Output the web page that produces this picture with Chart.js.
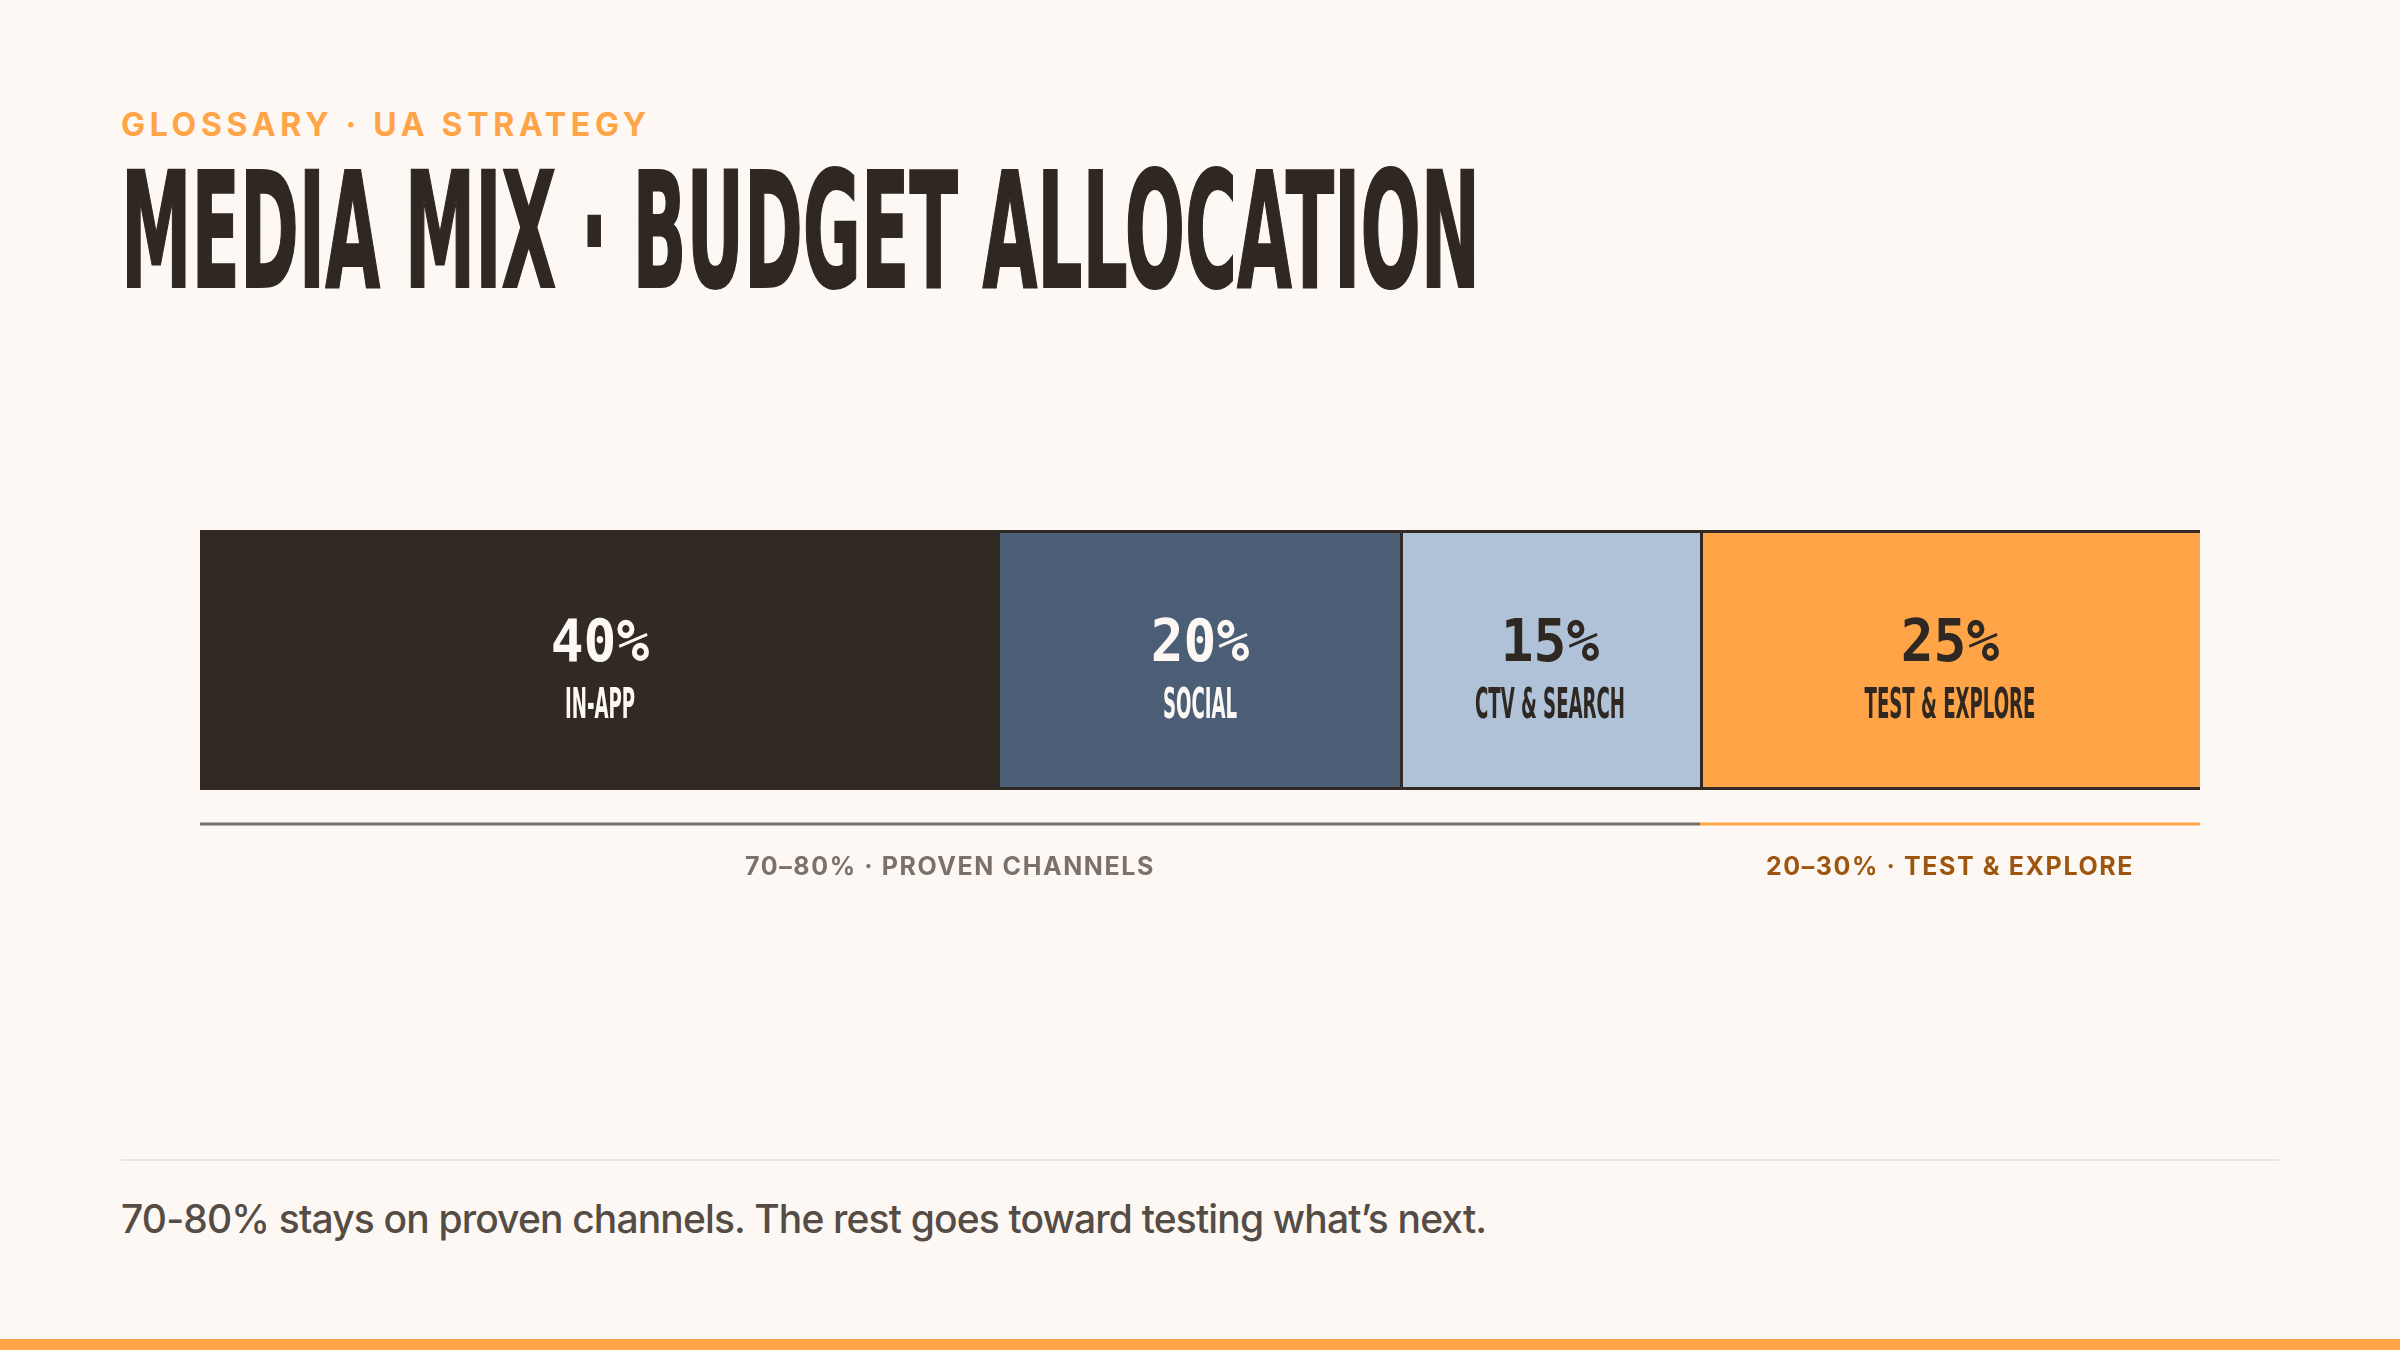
<!DOCTYPE html>
<html>
<head>
<meta charset="utf-8">
<script src="https://cdn.jsdelivr.net/npm/chart.js@4"></script>
<style>
  html, body { margin:0; padding:0; }
  body { width:2400px; height:1350px; background:#FDF8F3; position:relative; overflow:hidden; }
  #kicker { position:absolute; left:121px; top:109px; font-family:Inter, "Noto Sans", sans-serif; font-weight:700; font-size:32px; line-height:1; letter-spacing:4.7px; color:#FFA447; white-space:nowrap; }
  #title { position:absolute; left:121px; top:152px; font-family:"Liberation Sans Narrow", "DejaVu Sans Condensed", sans-serif; font-weight:700; font-size:160px; line-height:1; color:#2F2822; white-space:nowrap; transform-origin:0 0; -webkit-text-stroke:2px #2F2822; }
  #chartBox { position:absolute; left:0; top:500px; width:2400px; height:400px; }
  #rule { position:absolute; left:121px; top:1159px; width:2158px; height:2px; background:#ECE5DE; }
  #footer { position:absolute; left:121px; top:1199px; font-family:Inter, "Noto Sans", sans-serif; font-weight:500; font-size:39px; line-height:1; color:#554C45; white-space:nowrap; letter-spacing:-0.85px; }
  #strip { position:absolute; left:0; top:1339px; width:2400px; height:11px; background:#FFA447; }
</style>
</head>
<body>
<div id="kicker">GLOSSARY · UA STRATEGY</div>
<div id="title">MEDIA MIX · BUDGET ALLOCATION</div>
<div id="chartBox"><canvas id="c" width="2400" height="400"></canvas></div>
<div id="rule"></div>
<div id="footer">70-80% stays on proven channels. The rest goes toward testing what’s next.</div>
<div id="strip"></div>
<script>
// ---- data ----
const categories = ['IN-APP', 'SOCIAL', 'CTV & SEARCH', 'TEST & EXPLORE'];
const shares = [40, 20, 15, 25];
const groupLabels = ['70–80% · PROVEN CHANNELS', '20–30% · TEST & EXPLORE'];
const groupStart = [0, 75];
const groupEnd = [75, 100];

// ---- styles ----
const DARK = '#312923';
const fills = ['#312923', '#4B5E76', '#AFC2D7', '#FFA547'];
const textColors = ['#FDF8F3', '#FDF8F3', '#2F2822', '#2F2822'];
const borders = [
  0,
  {top:3, bottom:3, left:0, right:0},
  {top:3, bottom:3, left:3, right:0},
  {top:3, bottom:3, left:3, right:0}
];
const groupLineColors = ['#77706A', '#FFA447'];
const groupTextColors = ['#7A716B', '#9E560F'];

// fit title width
const t = document.getElementById('title');
const natural = t.getBoundingClientRect().width;
t.style.transform = 'scaleX(' + (1359 / natural) + ')';

const labelsPlugin = {
  id: 'segLabels',
  afterDatasetsDraw(chart) {
    const ctx = chart.ctx;
    chart.data.datasets.forEach((ds, i) => {
      const el = chart.getDatasetMeta(i).data[0];
      const p = el.getProps(['x', 'y', 'base'], true);
      const cx = (p.x + p.base) / 2;
      const cy = p.y;
      ctx.save();
      ctx.fillStyle = textColors[i];
      ctx.textAlign = 'center';
      ctx.textBaseline = 'alphabetic';
      ctx.font = 'bold 58px "DejaVu Sans Mono", monospace';
      ctx.save();
      ctx.translate(cx, cy + 1);
      ctx.scale(0.94, 1);
      ctx.fillText(ds.data[0] + '%', 0, 0);
      ctx.restore();
      ctx.font = 'bold 42px "Liberation Sans Narrow", "DejaVu Sans Condensed", sans-serif';
      ctx.translate(cx, cy + 58);
      ctx.scale(0.48, 1);
      ctx.fillText(ds.label, 0, 0);
      ctx.restore();
    });
    // group brackets under the bar
    const xs = chart.scales.x;
    const lineY = chart.chartArea.bottom + 34;
    groupLabels.forEach((g, i) => {
      const x0 = xs.getPixelForValue(groupStart[i]);
      const x1 = xs.getPixelForValue(groupEnd[i]);
      ctx.save();
      ctx.fillStyle = groupLineColors[i];
      ctx.fillRect(x0, lineY - 1.5, x1 - x0, 3);
      ctx.fillStyle = groupTextColors[i];
      ctx.font = '700 25px Inter, "Noto Sans", sans-serif';
      ctx.textAlign = 'center';
      ctx.textBaseline = 'alphabetic';
      try { ctx.letterSpacing = '1.6px'; } catch (e) {}
      ctx.fillText(g, (x0 + x1) / 2, lineY + 51);
      ctx.restore();
    });
  }
};

new Chart(document.getElementById('c'), {
  type: 'bar',
  data: {
    labels: ['Budget'],
    datasets: categories.map((c, i) => ({
      label: c,
      data: [shares[i]],
      backgroundColor: fills[i],
      borderColor: DARK,
      borderWidth: borders[i],
      borderSkipped: false,
      inflateAmount: 0,
      barPercentage: 1,
      categoryPercentage: 1
    }))
  },
  options: {
    indexAxis: 'y',
    responsive: false,
    animation: false,
    devicePixelRatio: 1,
    layout: { padding: { left: 200, right: 200, top: 30, bottom: 110 } },
    plugins: { legend: { display: false }, tooltip: { enabled: false } },
    scales: {
      x: { stacked: true, min: 0, max: 100, display: false },
      y: { stacked: true, display: false }
    }
  },
  plugins: [labelsPlugin]
});
</script>
</body>
</html>
